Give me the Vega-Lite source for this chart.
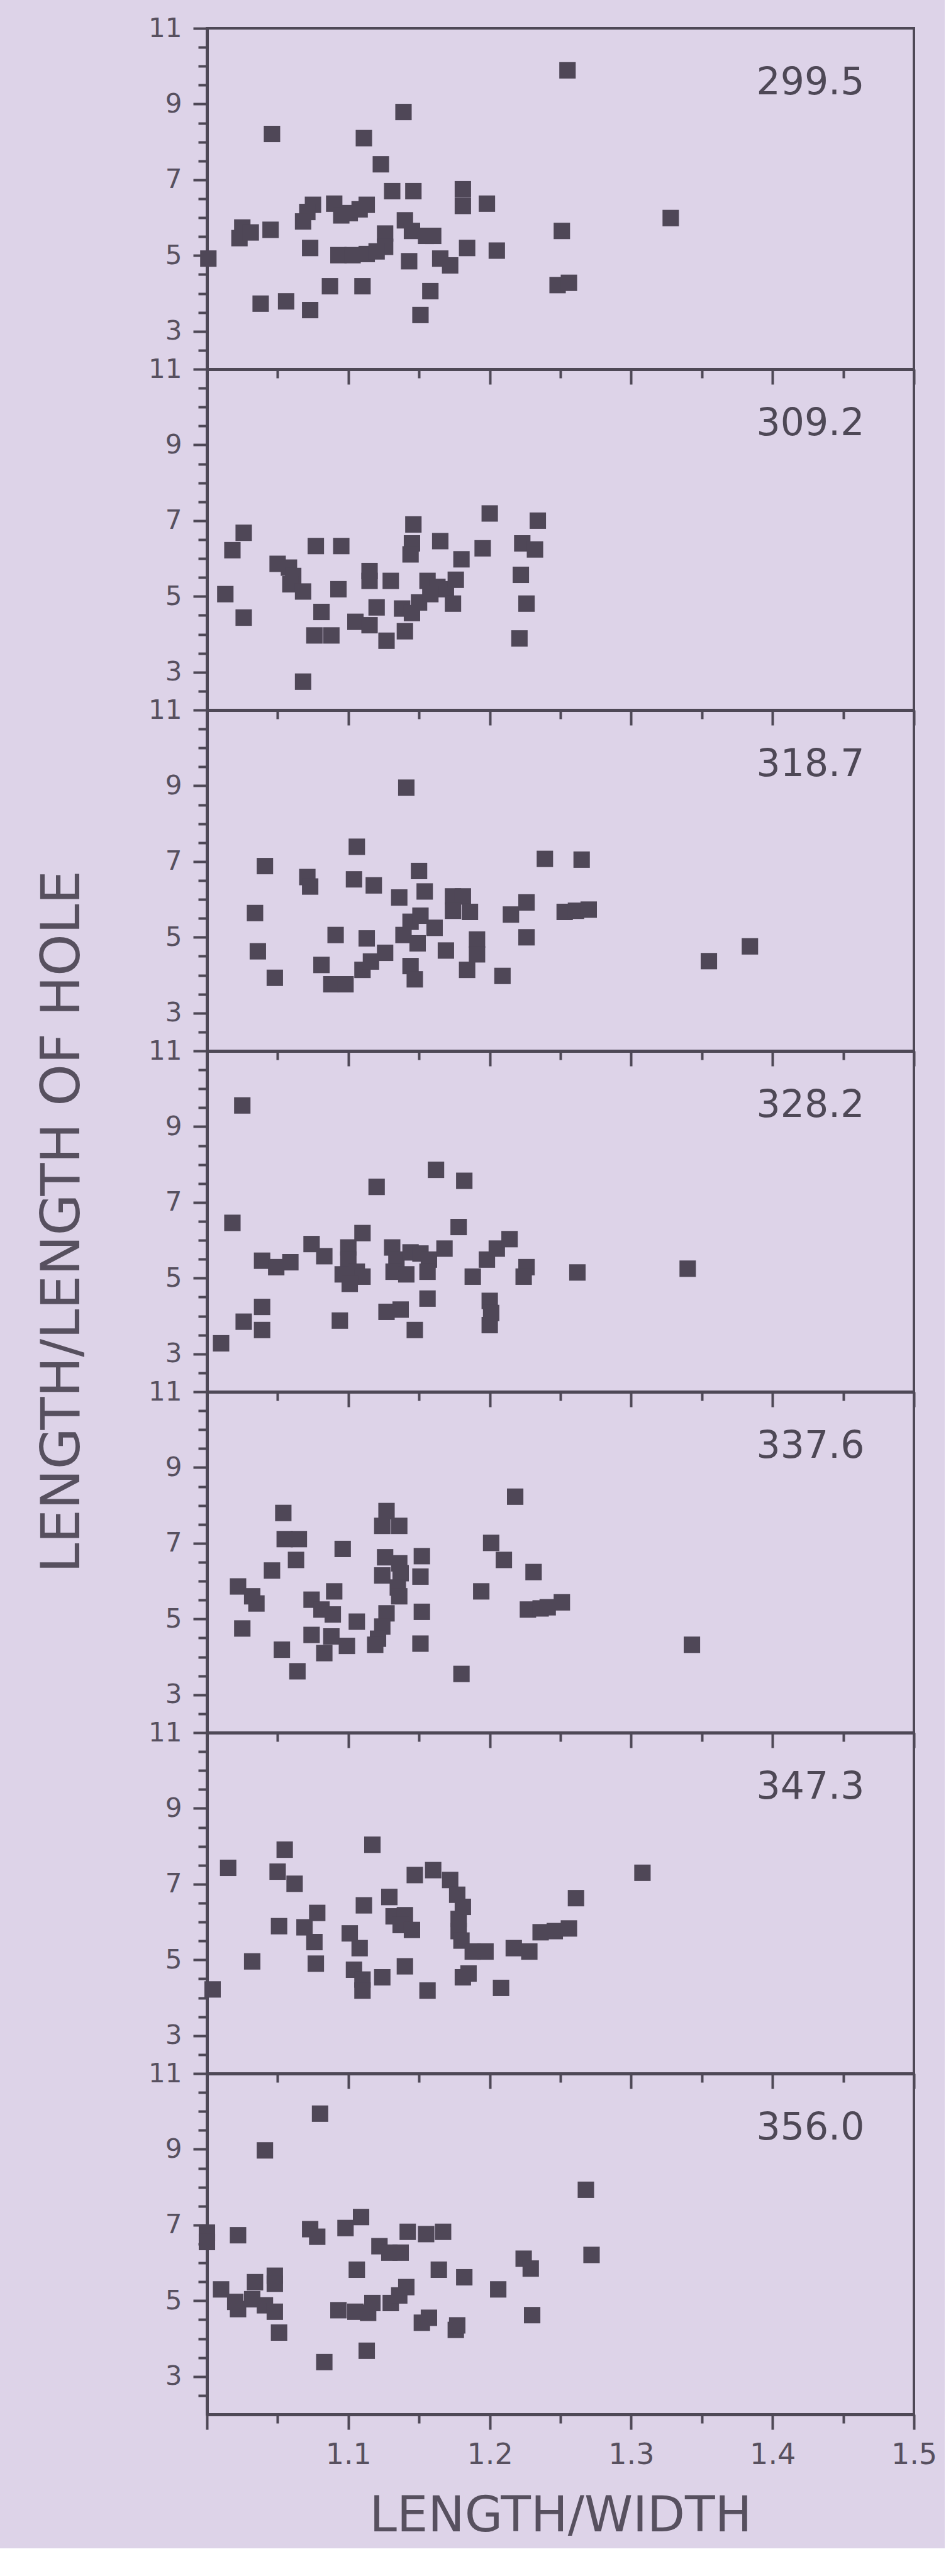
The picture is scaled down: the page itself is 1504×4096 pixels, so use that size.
{
"$schema": "https://vega.github.io/schema/vega-lite/v6.json",
"background": "#ddd3e8",
"padding": {"left": 55, "top": 22, "right": 10, "bottom": 10},
"autosize": {"type": "pad"},
"spacing": 0,
"bounds": "flush",
"datasets": {
"pts": [
{"p":"299.5","x":1.255,"y":9.89},{"p":"299.5","x":1.139,"y":8.79},{"p":"299.5","x":1.046,"y":8.21},{"p":"299.5","x":1.111,"y":8.10},{"p":"299.5","x":1.123,"y":7.41},{"p":"299.5","x":1.131,"y":6.70},{"p":"299.5","x":1.146,"y":6.70},{"p":"299.5","x":1.181,"y":6.75},{"p":"299.5","x":1.181,"y":6.31},{"p":"299.5","x":1.198,"y":6.37},
{"p":"299.5","x":1.075,"y":6.34},{"p":"299.5","x":1.071,"y":6.15},{"p":"299.5","x":1.068,"y":5.90},
{"p":"299.5","x":1.090,"y":6.37},{"p":"299.5","x":1.095,"y":6.06},{"p":"299.5","x":1.101,"y":6.12},{"p":"299.5","x":1.108,"y":6.22},{"p":"299.5","x":1.113,"y":6.34},
{"p":"299.5","x":1.025,"y":5.74},{"p":"299.5","x":1.023,"y":5.46},{"p":"299.5","x":1.031,"y":5.61},{"p":"299.5","x":1.045,"y":5.68},
{"p":"299.5","x":1.140,"y":5.93},{"p":"299.5","x":1.145,"y":5.65},{"p":"299.5","x":1.155,"y":5.52},{"p":"299.5","x":1.160,"y":5.52},
{"p":"299.5","x":1.126,"y":5.58},{"p":"299.5","x":1.126,"y":5.23},
{"p":"299.5","x":1.093,"y":5.01},{"p":"299.5","x":1.103,"y":5.01},{"p":"299.5","x":1.113,"y":5.04},{"p":"299.5","x":1.120,"y":5.11},
{"p":"299.5","x":1.073,"y":5.20},{"p":"299.5","x":1.001,"y":4.92},{"p":"299.5","x":1.143,"y":4.85},{"p":"299.5","x":1.165,"y":4.92},{"p":"299.5","x":1.172,"y":4.74},{"p":"299.5","x":1.184,"y":5.20},{"p":"299.5","x":1.205,"y":5.13},{"p":"299.5","x":1.251,"y":5.65},{"p":"299.5","x":1.328,"y":5.99},{"p":"299.5","x":1.248,"y":4.22},{"p":"299.5","x":1.256,"y":4.28},
{"p":"299.5","x":1.087,"y":4.19},{"p":"299.5","x":1.110,"y":4.19},{"p":"299.5","x":1.158,"y":4.06},{"p":"299.5","x":1.038,"y":3.73},{"p":"299.5","x":1.056,"y":3.79},{"p":"299.5","x":1.073,"y":3.56},{"p":"299.5","x":1.151,"y":3.43},

{"p":"309.2","x":1.013,"y":5.06},{"p":"309.2","x":1.018,"y":6.22},{"p":"309.2","x":1.026,"y":6.68},{"p":"309.2","x":1.026,"y":4.44},{"p":"309.2","x":1.068,"y":2.75},{"p":"309.2","x":1.077,"y":6.33},{"p":"309.2","x":1.095,"y":6.33},
{"p":"309.2","x":1.050,"y":5.86},{"p":"309.2","x":1.058,"y":5.76},{"p":"309.2","x":1.061,"y":5.54},{"p":"309.2","x":1.059,"y":5.32},{"p":"309.2","x":1.068,"y":5.13},
{"p":"309.2","x":1.093,"y":5.19},{"p":"309.2","x":1.081,"y":4.59},{"p":"309.2","x":1.076,"y":3.97},{"p":"309.2","x":1.088,"y":3.97},
{"p":"309.2","x":1.115,"y":5.67},{"p":"309.2","x":1.115,"y":5.41},{"p":"309.2","x":1.130,"y":5.41},{"p":"309.2","x":1.120,"y":4.71},{"p":"309.2","x":1.105,"y":4.33},{"p":"309.2","x":1.115,"y":4.24},{"p":"309.2","x":1.127,"y":3.83},
{"p":"309.2","x":1.140,"y":4.08},{"p":"309.2","x":1.138,"y":4.68},{"p":"309.2","x":1.145,"y":4.56},{"p":"309.2","x":1.150,"y":4.84},
{"p":"309.2","x":1.146,"y":6.90},{"p":"309.2","x":1.145,"y":6.40},{"p":"309.2","x":1.144,"y":6.11},{"p":"309.2","x":1.165,"y":6.46},{"p":"309.2","x":1.180,"y":5.98},{"p":"309.2","x":1.195,"y":6.27},{"p":"309.2","x":1.200,"y":7.19},
{"p":"309.2","x":1.156,"y":5.41},{"p":"309.2","x":1.163,"y":5.25},{"p":"309.2","x":1.169,"y":5.19},{"p":"309.2","x":1.176,"y":5.44},{"p":"309.2","x":1.174,"y":4.81},{"p":"309.2","x":1.158,"y":5.06},
{"p":"309.2","x":1.223,"y":6.40},{"p":"309.2","x":1.232,"y":6.24},{"p":"309.2","x":1.234,"y":7.00},{"p":"309.2","x":1.222,"y":5.57},{"p":"309.2","x":1.226,"y":4.81},{"p":"309.2","x":1.221,"y":3.89},

{"p":"318.7","x":1.141,"y":8.95},{"p":"318.7","x":1.106,"y":7.39},{"p":"318.7","x":1.041,"y":6.88},{"p":"318.7","x":1.071,"y":6.59},{"p":"318.7","x":1.073,"y":6.34},{"p":"318.7","x":1.104,"y":6.53},{"p":"318.7","x":1.118,"y":6.37},{"p":"318.7","x":1.150,"y":6.75},{"p":"318.7","x":1.136,"y":6.05},{"p":"318.7","x":1.154,"y":6.21},
{"p":"318.7","x":1.034,"y":5.64},{"p":"318.7","x":1.036,"y":4.63},{"p":"318.7","x":1.048,"y":3.93},{"p":"318.7","x":1.091,"y":5.06},{"p":"318.7","x":1.113,"y":4.97},{"p":"318.7","x":1.081,"y":4.27},{"p":"318.7","x":1.088,"y":3.76},{"p":"318.7","x":1.098,"y":3.76},
{"p":"318.7","x":1.110,"y":4.14},{"p":"318.7","x":1.116,"y":4.36},{"p":"318.7","x":1.126,"y":4.59},
{"p":"318.7","x":1.139,"y":5.06},{"p":"318.7","x":1.144,"y":5.41},{"p":"318.7","x":1.151,"y":5.57},{"p":"318.7","x":1.161,"y":5.25},{"p":"318.7","x":1.149,"y":4.84},{"p":"318.7","x":1.144,"y":4.24},{"p":"318.7","x":1.147,"y":3.89},
{"p":"318.7","x":1.169,"y":4.65},{"p":"318.7","x":1.174,"y":6.08},{"p":"318.7","x":1.181,"y":6.08},{"p":"318.7","x":1.174,"y":5.70},{"p":"318.7","x":1.186,"y":5.67},
{"p":"318.7","x":1.191,"y":4.94},{"p":"318.7","x":1.191,"y":4.55},{"p":"318.7","x":1.184,"y":4.14},{"p":"318.7","x":1.209,"y":3.98},{"p":"318.7","x":1.215,"y":5.60},{"p":"318.7","x":1.226,"y":5.92},{"p":"318.7","x":1.226,"y":5.00},
{"p":"318.7","x":1.239,"y":7.07},{"p":"318.7","x":1.265,"y":7.05},{"p":"318.7","x":1.253,"y":5.67},{"p":"318.7","x":1.261,"y":5.70},{"p":"318.7","x":1.270,"y":5.73},{"p":"318.7","x":1.355,"y":4.37},{"p":"318.7","x":1.384,"y":4.76},

{"p":"328.2","x":1.025,"y":9.56},{"p":"328.2","x":1.018,"y":6.46},{"p":"328.2","x":1.010,"y":3.28},{"p":"328.2","x":1.039,"y":4.24},{"p":"328.2","x":1.026,"y":3.85},{"p":"328.2","x":1.039,"y":3.63},
{"p":"328.2","x":1.039,"y":5.46},{"p":"328.2","x":1.049,"y":5.29},{"p":"328.2","x":1.059,"y":5.42},{"p":"328.2","x":1.074,"y":5.90},{"p":"328.2","x":1.083,"y":5.58},{"p":"328.2","x":1.094,"y":3.88},{"p":"328.2","x":1.120,"y":7.41},{"p":"328.2","x":1.110,"y":6.19},
{"p":"328.2","x":1.100,"y":5.81},{"p":"328.2","x":1.100,"y":5.49},{"p":"328.2","x":1.096,"y":5.10},{"p":"328.2","x":1.106,"y":5.17},{"p":"328.2","x":1.110,"y":5.04},{"p":"328.2","x":1.101,"y":4.85},
{"p":"328.2","x":1.131,"y":5.81},{"p":"328.2","x":1.134,"y":5.49},{"p":"328.2","x":1.132,"y":5.17},{"p":"328.2","x":1.141,"y":5.10},{"p":"328.2","x":1.144,"y":5.68},{"p":"328.2","x":1.151,"y":5.65},{"p":"328.2","x":1.157,"y":5.49},{"p":"328.2","x":1.156,"y":5.17},{"p":"328.2","x":1.168,"y":5.78},
{"p":"328.2","x":1.162,"y":7.86},{"p":"328.2","x":1.182,"y":7.57},{"p":"328.2","x":1.178,"y":6.35},{"p":"328.2","x":1.156,"y":4.46},{"p":"328.2","x":1.127,"y":4.11},{"p":"328.2","x":1.137,"y":4.17},{"p":"328.2","x":1.147,"y":3.63},
{"p":"328.2","x":1.188,"y":5.04},{"p":"328.2","x":1.198,"y":5.49},{"p":"328.2","x":1.205,"y":5.78},{"p":"328.2","x":1.214,"y":6.03},{"p":"328.2","x":1.200,"y":4.40},{"p":"328.2","x":1.201,"y":4.08},{"p":"328.2","x":1.200,"y":3.76},
{"p":"328.2","x":1.226,"y":5.29},{"p":"328.2","x":1.224,"y":5.04},{"p":"328.2","x":1.262,"y":5.15},{"p":"328.2","x":1.340,"y":5.25},

{"p":"337.6","x":1.054,"y":7.80},{"p":"337.6","x":1.055,"y":7.11},{"p":"337.6","x":1.065,"y":7.11},{"p":"337.6","x":1.063,"y":6.56},{"p":"337.6","x":1.046,"y":6.28},{"p":"337.6","x":1.022,"y":5.86},{"p":"337.6","x":1.032,"y":5.60},{"p":"337.6","x":1.035,"y":5.41},{"p":"337.6","x":1.025,"y":4.75},
{"p":"337.6","x":1.096,"y":6.85},{"p":"337.6","x":1.127,"y":7.85},{"p":"337.6","x":1.124,"y":7.46},{"p":"337.6","x":1.136,"y":7.46},{"p":"337.6","x":1.126,"y":6.63},{"p":"337.6","x":1.136,"y":6.47},{"p":"337.6","x":1.152,"y":6.66},{"p":"337.6","x":1.124,"y":6.15},{"p":"337.6","x":1.137,"y":6.21},{"p":"337.6","x":1.151,"y":6.12},{"p":"337.6","x":1.135,"y":5.83},{"p":"337.6","x":1.136,"y":5.60},
{"p":"337.6","x":1.090,"y":5.73},{"p":"337.6","x":1.074,"y":5.51},{"p":"337.6","x":1.081,"y":5.25},{"p":"337.6","x":1.089,"y":5.12},{"p":"337.6","x":1.106,"y":4.93},{"p":"337.6","x":1.127,"y":5.15},{"p":"337.6","x":1.124,"y":4.80},{"p":"337.6","x":1.121,"y":4.48},{"p":"337.6","x":1.119,"y":4.32},{"p":"337.6","x":1.152,"y":5.19},
{"p":"337.6","x":1.074,"y":4.58},{"p":"337.6","x":1.088,"y":4.54},{"p":"337.6","x":1.083,"y":4.10},{"p":"337.6","x":1.099,"y":4.29},{"p":"337.6","x":1.053,"y":4.19},{"p":"337.6","x":1.064,"y":3.62},{"p":"337.6","x":1.151,"y":4.35},{"p":"337.6","x":1.180,"y":3.55},
{"p":"337.6","x":1.194,"y":5.73},{"p":"337.6","x":1.201,"y":7.01},{"p":"337.6","x":1.210,"y":6.56},{"p":"337.6","x":1.218,"y":8.23},{"p":"337.6","x":1.231,"y":6.24},{"p":"337.6","x":1.227,"y":5.25},{"p":"337.6","x":1.236,"y":5.28},{"p":"337.6","x":1.241,"y":5.31},{"p":"337.6","x":1.251,"y":5.44},{"p":"337.6","x":1.343,"y":4.32},

{"p":"347.3","x":1.015,"y":7.43},{"p":"347.3","x":1.004,"y":4.22},{"p":"347.3","x":1.032,"y":4.96},{"p":"347.3","x":1.055,"y":7.91},{"p":"347.3","x":1.050,"y":7.33},{"p":"347.3","x":1.062,"y":7.01},{"p":"347.3","x":1.051,"y":5.89},{"p":"347.3","x":1.078,"y":6.24},{"p":"347.3","x":1.069,"y":5.86},{"p":"347.3","x":1.076,"y":5.47},{"p":"347.3","x":1.077,"y":4.90},
{"p":"347.3","x":1.117,"y":8.04},{"p":"347.3","x":1.111,"y":6.44},{"p":"347.3","x":1.101,"y":5.70},{"p":"347.3","x":1.108,"y":5.31},{"p":"347.3","x":1.104,"y":4.74},{"p":"347.3","x":1.110,"y":4.48},{"p":"347.3","x":1.110,"y":4.19},{"p":"347.3","x":1.124,"y":4.54},{"p":"347.3","x":1.140,"y":4.83},{"p":"347.3","x":1.156,"y":4.19},
{"p":"347.3","x":1.129,"y":6.66},{"p":"347.3","x":1.132,"y":6.15},{"p":"347.3","x":1.140,"y":6.18},{"p":"347.3","x":1.137,"y":5.92},{"p":"347.3","x":1.145,"y":5.79},
{"p":"347.3","x":1.147,"y":7.24},{"p":"347.3","x":1.160,"y":7.37},{"p":"347.3","x":1.172,"y":7.11},{"p":"347.3","x":1.177,"y":6.72},{"p":"347.3","x":1.181,"y":6.40},{"p":"347.3","x":1.178,"y":6.08},{"p":"347.3","x":1.178,"y":5.76},{"p":"347.3","x":1.180,"y":5.51},{"p":"347.3","x":1.188,"y":5.22},{"p":"347.3","x":1.197,"y":5.22},
{"p":"347.3","x":1.185,"y":4.64},{"p":"347.3","x":1.181,"y":4.54},{"p":"347.3","x":1.208,"y":4.26},{"p":"347.3","x":1.217,"y":5.31},{"p":"347.3","x":1.228,"y":5.22},{"p":"347.3","x":1.236,"y":5.73},{"p":"347.3","x":1.246,"y":5.76},{"p":"347.3","x":1.256,"y":5.83},{"p":"347.3","x":1.261,"y":6.63},{"p":"347.3","x":1.308,"y":7.30},

{"p":"356.0","x":1.080,"y":9.94},{"p":"356.0","x":1.041,"y":8.97},{"p":"356.0","x":1.000,"y":6.80},{"p":"356.0","x":1.000,"y":6.55},{"p":"356.0","x":1.022,"y":6.73},{"p":"356.0","x":1.073,"y":6.89},{"p":"356.0","x":1.078,"y":6.69},{"p":"356.0","x":1.098,"y":6.92},{"p":"356.0","x":1.109,"y":7.21},{"p":"356.0","x":1.122,"y":6.44},{"p":"356.0","x":1.129,"y":6.27},{"p":"356.0","x":1.137,"y":6.27},
{"p":"356.0","x":1.142,"y":6.82},{"p":"356.0","x":1.155,"y":6.76},{"p":"356.0","x":1.167,"y":6.82},{"p":"356.0","x":1.106,"y":5.82},{"p":"356.0","x":1.164,"y":5.82},{"p":"356.0","x":1.182,"y":5.62},
{"p":"356.0","x":1.010,"y":5.30},{"p":"356.0","x":1.020,"y":4.97},{"p":"356.0","x":1.032,"y":5.04},{"p":"356.0","x":1.041,"y":4.88},{"p":"356.0","x":1.048,"y":4.71},{"p":"356.0","x":1.022,"y":4.78},{"p":"356.0","x":1.034,"y":5.49},{"p":"356.0","x":1.048,"y":5.66},{"p":"356.0","x":1.048,"y":5.45},
{"p":"356.0","x":1.051,"y":4.16},{"p":"356.0","x":1.093,"y":4.75},{"p":"356.0","x":1.105,"y":4.71},{"p":"356.0","x":1.114,"y":4.68},{"p":"356.0","x":1.117,"y":4.94},{"p":"356.0","x":1.130,"y":4.94},{"p":"356.0","x":1.136,"y":5.14},{"p":"356.0","x":1.141,"y":5.36},
{"p":"356.0","x":1.152,"y":4.42},{"p":"356.0","x":1.157,"y":4.55},{"p":"356.0","x":1.176,"y":4.23},{"p":"356.0","x":1.177,"y":4.35},{"p":"356.0","x":1.113,"y":3.68},{"p":"356.0","x":1.083,"y":3.38},{"p":"356.0","x":1.206,"y":5.30},{"p":"356.0","x":1.224,"y":6.11},{"p":"356.0","x":1.229,"y":5.85},{"p":"356.0","x":1.230,"y":4.62},{"p":"356.0","x":1.268,"y":7.93},{"p":"356.0","x":1.272,"y":6.21}
]
},
"vconcat": [
{"width":1124,"height":542,"resolve":{"axis":{"x":"independent","y":"independent"}},"layer":[
 {"data":{"name":"pts"},"transform":[{"filter":"datum.p == '299.5'"}],"mark":{"type":"point","shape":"square","filled":true,"size":680,"color":"#4f4757","opacity":1},
  "encoding":{"x":{"field":"x","type":"quantitative","scale":{"domain":[1,1.5],"nice":false,"zero":false},"axis":{"orient":"bottom","title":null,"labels":false,"values":[1,1.1,1.2,1.3,1.4,1.5],"tickSize":24}},
   "y":{"field":"y","type":"quantitative","scale":{"domain":[2,11],"nice":false,"zero":false},"axis":{"orient":"left","title":null,"values":[3,5,7,9,11],"format":"d","tickSize":22}}}},
 {"data":{"values":[{"label":"299.5"}]},"mark":{"type":"text","align":"right","baseline":"middle","fontSize":60,"font":"DejaVu Sans","color":"#4e4856"},
  "encoding":{"x":{"datum":1.465,"type":"quantitative","scale":{"domain":[1,1.5],"nice":false,"zero":false},"axis":{"orient":"bottom","title":null,"labels":false,"domain":false,"values":[1.05,1.15,1.25,1.35,1.45],"tickSize":14}},
   "y":{"datum":9.55,"type":"quantitative","scale":{"domain":[2,11],"nice":false,"zero":false},"axis":{"orient":"left","title":null,"labels":false,"domain":false,"values":[2.5,3.5,4,4.5,5.5,6,6.5,7.5,8,8.5,9.5,10,10.5],"tickSize":14}},"text":{"field":"label"}}}
]},
{"width":1124,"height":542,"resolve":{"axis":{"x":"independent","y":"independent"}},"layer":[
 {"data":{"name":"pts"},"transform":[{"filter":"datum.p == '309.2'"}],"mark":{"type":"point","shape":"square","filled":true,"size":680,"color":"#4f4757","opacity":1},
  "encoding":{"x":{"field":"x","type":"quantitative","scale":{"domain":[1,1.5],"nice":false,"zero":false},"axis":{"orient":"bottom","title":null,"labels":false,"values":[1,1.1,1.2,1.3,1.4,1.5],"tickSize":24}},
   "y":{"field":"y","type":"quantitative","scale":{"domain":[2,11],"nice":false,"zero":false},"axis":{"orient":"left","title":null,"values":[3,5,7,9,11],"format":"d","tickSize":22}}}},
 {"data":{"values":[{"label":"309.2"}]},"mark":{"type":"text","align":"right","baseline":"middle","fontSize":60,"font":"DejaVu Sans","color":"#4e4856"},
  "encoding":{"x":{"datum":1.465,"type":"quantitative","scale":{"domain":[1,1.5],"nice":false,"zero":false},"axis":{"orient":"bottom","title":null,"labels":false,"domain":false,"values":[1.05,1.15,1.25,1.35,1.45],"tickSize":14}},
   "y":{"datum":9.55,"type":"quantitative","scale":{"domain":[2,11],"nice":false,"zero":false},"axis":{"orient":"left","title":null,"labels":false,"domain":false,"values":[2.5,3.5,4,4.5,5.5,6,6.5,7.5,8,8.5,9.5,10,10.5],"tickSize":14}},"text":{"field":"label"}}}
]},
{"width":1124,"height":542,"resolve":{"axis":{"x":"independent","y":"independent"}},"layer":[
 {"data":{"name":"pts"},"transform":[{"filter":"datum.p == '318.7'"}],"mark":{"type":"point","shape":"square","filled":true,"size":680,"color":"#4f4757","opacity":1},
  "encoding":{"x":{"field":"x","type":"quantitative","scale":{"domain":[1,1.5],"nice":false,"zero":false},"axis":{"orient":"bottom","title":null,"labels":false,"values":[1,1.1,1.2,1.3,1.4,1.5],"tickSize":24}},
   "y":{"field":"y","type":"quantitative","scale":{"domain":[2,11],"nice":false,"zero":false},"axis":{"orient":"left","title":null,"values":[3,5,7,9,11],"format":"d","tickSize":22}}}},
 {"data":{"values":[{"label":"318.7"}]},"mark":{"type":"text","align":"right","baseline":"middle","fontSize":60,"font":"DejaVu Sans","color":"#4e4856"},
  "encoding":{"x":{"datum":1.465,"type":"quantitative","scale":{"domain":[1,1.5],"nice":false,"zero":false},"axis":{"orient":"bottom","title":null,"labels":false,"domain":false,"values":[1.05,1.15,1.25,1.35,1.45],"tickSize":14}},
   "y":{"datum":9.55,"type":"quantitative","scale":{"domain":[2,11],"nice":false,"zero":false},"axis":{"orient":"left","title":null,"labels":false,"domain":false,"values":[2.5,3.5,4,4.5,5.5,6,6.5,7.5,8,8.5,9.5,10,10.5],"tickSize":14}},"text":{"field":"label"}}}
]},
{"width":1124,"height":542,"resolve":{"axis":{"x":"independent","y":"independent"}},"layer":[
 {"data":{"name":"pts"},"transform":[{"filter":"datum.p == '328.2'"}],"mark":{"type":"point","shape":"square","filled":true,"size":680,"color":"#4f4757","opacity":1},
  "encoding":{"x":{"field":"x","type":"quantitative","scale":{"domain":[1,1.5],"nice":false,"zero":false},"axis":{"orient":"bottom","title":null,"labels":false,"values":[1,1.1,1.2,1.3,1.4,1.5],"tickSize":24}},
   "y":{"field":"y","type":"quantitative","scale":{"domain":[2,11],"nice":false,"zero":false},"axis":{"orient":"left","title":"LENGTH/LENGTH OF HOLE","titleFontSize":85,"titlePadding":92,"values":[3,5,7,9,11],"format":"d","tickSize":22}}}},
 {"data":{"values":[{"label":"328.2"}]},"mark":{"type":"text","align":"right","baseline":"middle","fontSize":60,"font":"DejaVu Sans","color":"#4e4856"},
  "encoding":{"x":{"datum":1.465,"type":"quantitative","scale":{"domain":[1,1.5],"nice":false,"zero":false},"axis":{"orient":"bottom","title":null,"labels":false,"domain":false,"values":[1.05,1.15,1.25,1.35,1.45],"tickSize":14}},
   "y":{"datum":9.55,"type":"quantitative","scale":{"domain":[2,11],"nice":false,"zero":false},"axis":{"orient":"left","title":null,"labels":false,"domain":false,"values":[2.5,3.5,4,4.5,5.5,6,6.5,7.5,8,8.5,9.5,10,10.5],"tickSize":14}},"text":{"field":"label"}}}
]},
{"width":1124,"height":542,"resolve":{"axis":{"x":"independent","y":"independent"}},"layer":[
 {"data":{"name":"pts"},"transform":[{"filter":"datum.p == '337.6'"}],"mark":{"type":"point","shape":"square","filled":true,"size":680,"color":"#4f4757","opacity":1},
  "encoding":{"x":{"field":"x","type":"quantitative","scale":{"domain":[1,1.5],"nice":false,"zero":false},"axis":{"orient":"bottom","title":null,"labels":false,"values":[1,1.1,1.2,1.3,1.4,1.5],"tickSize":24}},
   "y":{"field":"y","type":"quantitative","scale":{"domain":[2,11],"nice":false,"zero":false},"axis":{"orient":"left","title":null,"values":[3,5,7,9,11],"format":"d","tickSize":22}}}},
 {"data":{"values":[{"label":"337.6"}]},"mark":{"type":"text","align":"right","baseline":"middle","fontSize":60,"font":"DejaVu Sans","color":"#4e4856"},
  "encoding":{"x":{"datum":1.465,"type":"quantitative","scale":{"domain":[1,1.5],"nice":false,"zero":false},"axis":{"orient":"bottom","title":null,"labels":false,"domain":false,"values":[1.05,1.15,1.25,1.35,1.45],"tickSize":14}},
   "y":{"datum":9.55,"type":"quantitative","scale":{"domain":[2,11],"nice":false,"zero":false},"axis":{"orient":"left","title":null,"labels":false,"domain":false,"values":[2.5,3.5,4,4.5,5.5,6,6.5,7.5,8,8.5,9.5,10,10.5],"tickSize":14}},"text":{"field":"label"}}}
]},
{"width":1124,"height":542,"resolve":{"axis":{"x":"independent","y":"independent"}},"layer":[
 {"data":{"name":"pts"},"transform":[{"filter":"datum.p == '347.3'"}],"mark":{"type":"point","shape":"square","filled":true,"size":680,"color":"#4f4757","opacity":1},
  "encoding":{"x":{"field":"x","type":"quantitative","scale":{"domain":[1,1.5],"nice":false,"zero":false},"axis":{"orient":"bottom","title":null,"labels":false,"values":[1,1.1,1.2,1.3,1.4,1.5],"tickSize":24}},
   "y":{"field":"y","type":"quantitative","scale":{"domain":[2,11],"nice":false,"zero":false},"axis":{"orient":"left","title":null,"values":[3,5,7,9,11],"format":"d","tickSize":22}}}},
 {"data":{"values":[{"label":"347.3"}]},"mark":{"type":"text","align":"right","baseline":"middle","fontSize":60,"font":"DejaVu Sans","color":"#4e4856"},
  "encoding":{"x":{"datum":1.465,"type":"quantitative","scale":{"domain":[1,1.5],"nice":false,"zero":false},"axis":{"orient":"bottom","title":null,"labels":false,"domain":false,"values":[1.05,1.15,1.25,1.35,1.45],"tickSize":14}},
   "y":{"datum":9.55,"type":"quantitative","scale":{"domain":[2,11],"nice":false,"zero":false},"axis":{"orient":"left","title":null,"labels":false,"domain":false,"values":[2.5,3.5,4,4.5,5.5,6,6.5,7.5,8,8.5,9.5,10,10.5],"tickSize":14}},"text":{"field":"label"}}}
]},
{"width":1124,"height":542,"resolve":{"axis":{"x":"independent","y":"independent"}},"layer":[
 {"data":{"name":"pts"},"transform":[{"filter":"datum.p == '356.0'"}],"mark":{"type":"point","shape":"square","filled":true,"size":680,"color":"#4f4757","opacity":1},
  "encoding":{"x":{"field":"x","type":"quantitative","scale":{"domain":[1,1.5],"nice":false,"zero":false},"axis":{"orient":"bottom","title":"LENGTH/WIDTH","titleFontSize":78,"titlePadding":36,"labelFontSize":46,"labelPadding":18,"values":[1,1.1,1.2,1.3,1.4,1.5],"labelExpr":"datum.value > 1.01 ? format(datum.value, '.1f') : ''","tickSize":24}},
   "y":{"field":"y","type":"quantitative","scale":{"domain":[2,11],"nice":false,"zero":false},"axis":{"orient":"left","title":null,"values":[3,5,7,9,11],"format":"d","tickSize":22}}}},
 {"data":{"values":[{"label":"356.0"}]},"mark":{"type":"text","align":"right","baseline":"middle","fontSize":60,"font":"DejaVu Sans","color":"#4e4856"},
  "encoding":{"x":{"datum":1.465,"type":"quantitative","scale":{"domain":[1,1.5],"nice":false,"zero":false},"axis":{"orient":"bottom","title":null,"labels":false,"domain":false,"values":[1.05,1.15,1.25,1.35,1.45],"tickSize":14}},
   "y":{"datum":9.55,"type":"quantitative","scale":{"domain":[2,11],"nice":false,"zero":false},"axis":{"orient":"left","title":null,"labels":false,"domain":false,"values":[2.5,3.5,4,4.5,5.5,6,6.5,7.5,8,8.5,9.5,10,10.5],"tickSize":14}},"text":{"field":"label"}}}
]}
],
"config": {
 "view": {"stroke": "#4e4856", "strokeWidth": 4},
 "axis": {"grid": false, "domainColor": "#4e4856", "domainWidth": 5, "tickColor": "#4e4856", "tickWidth": 4, "labelColor": "#57505f", "labelFont": "DejaVu Sans", "labelFontSize": 42, "labelPadding": 18, "labelFlush": false, "labelOverlap": false, "labelBound": false, "titleFont": "DejaVu Sans", "titleFontWeight": "normal", "titleColor": "#57505f"}
}
}
